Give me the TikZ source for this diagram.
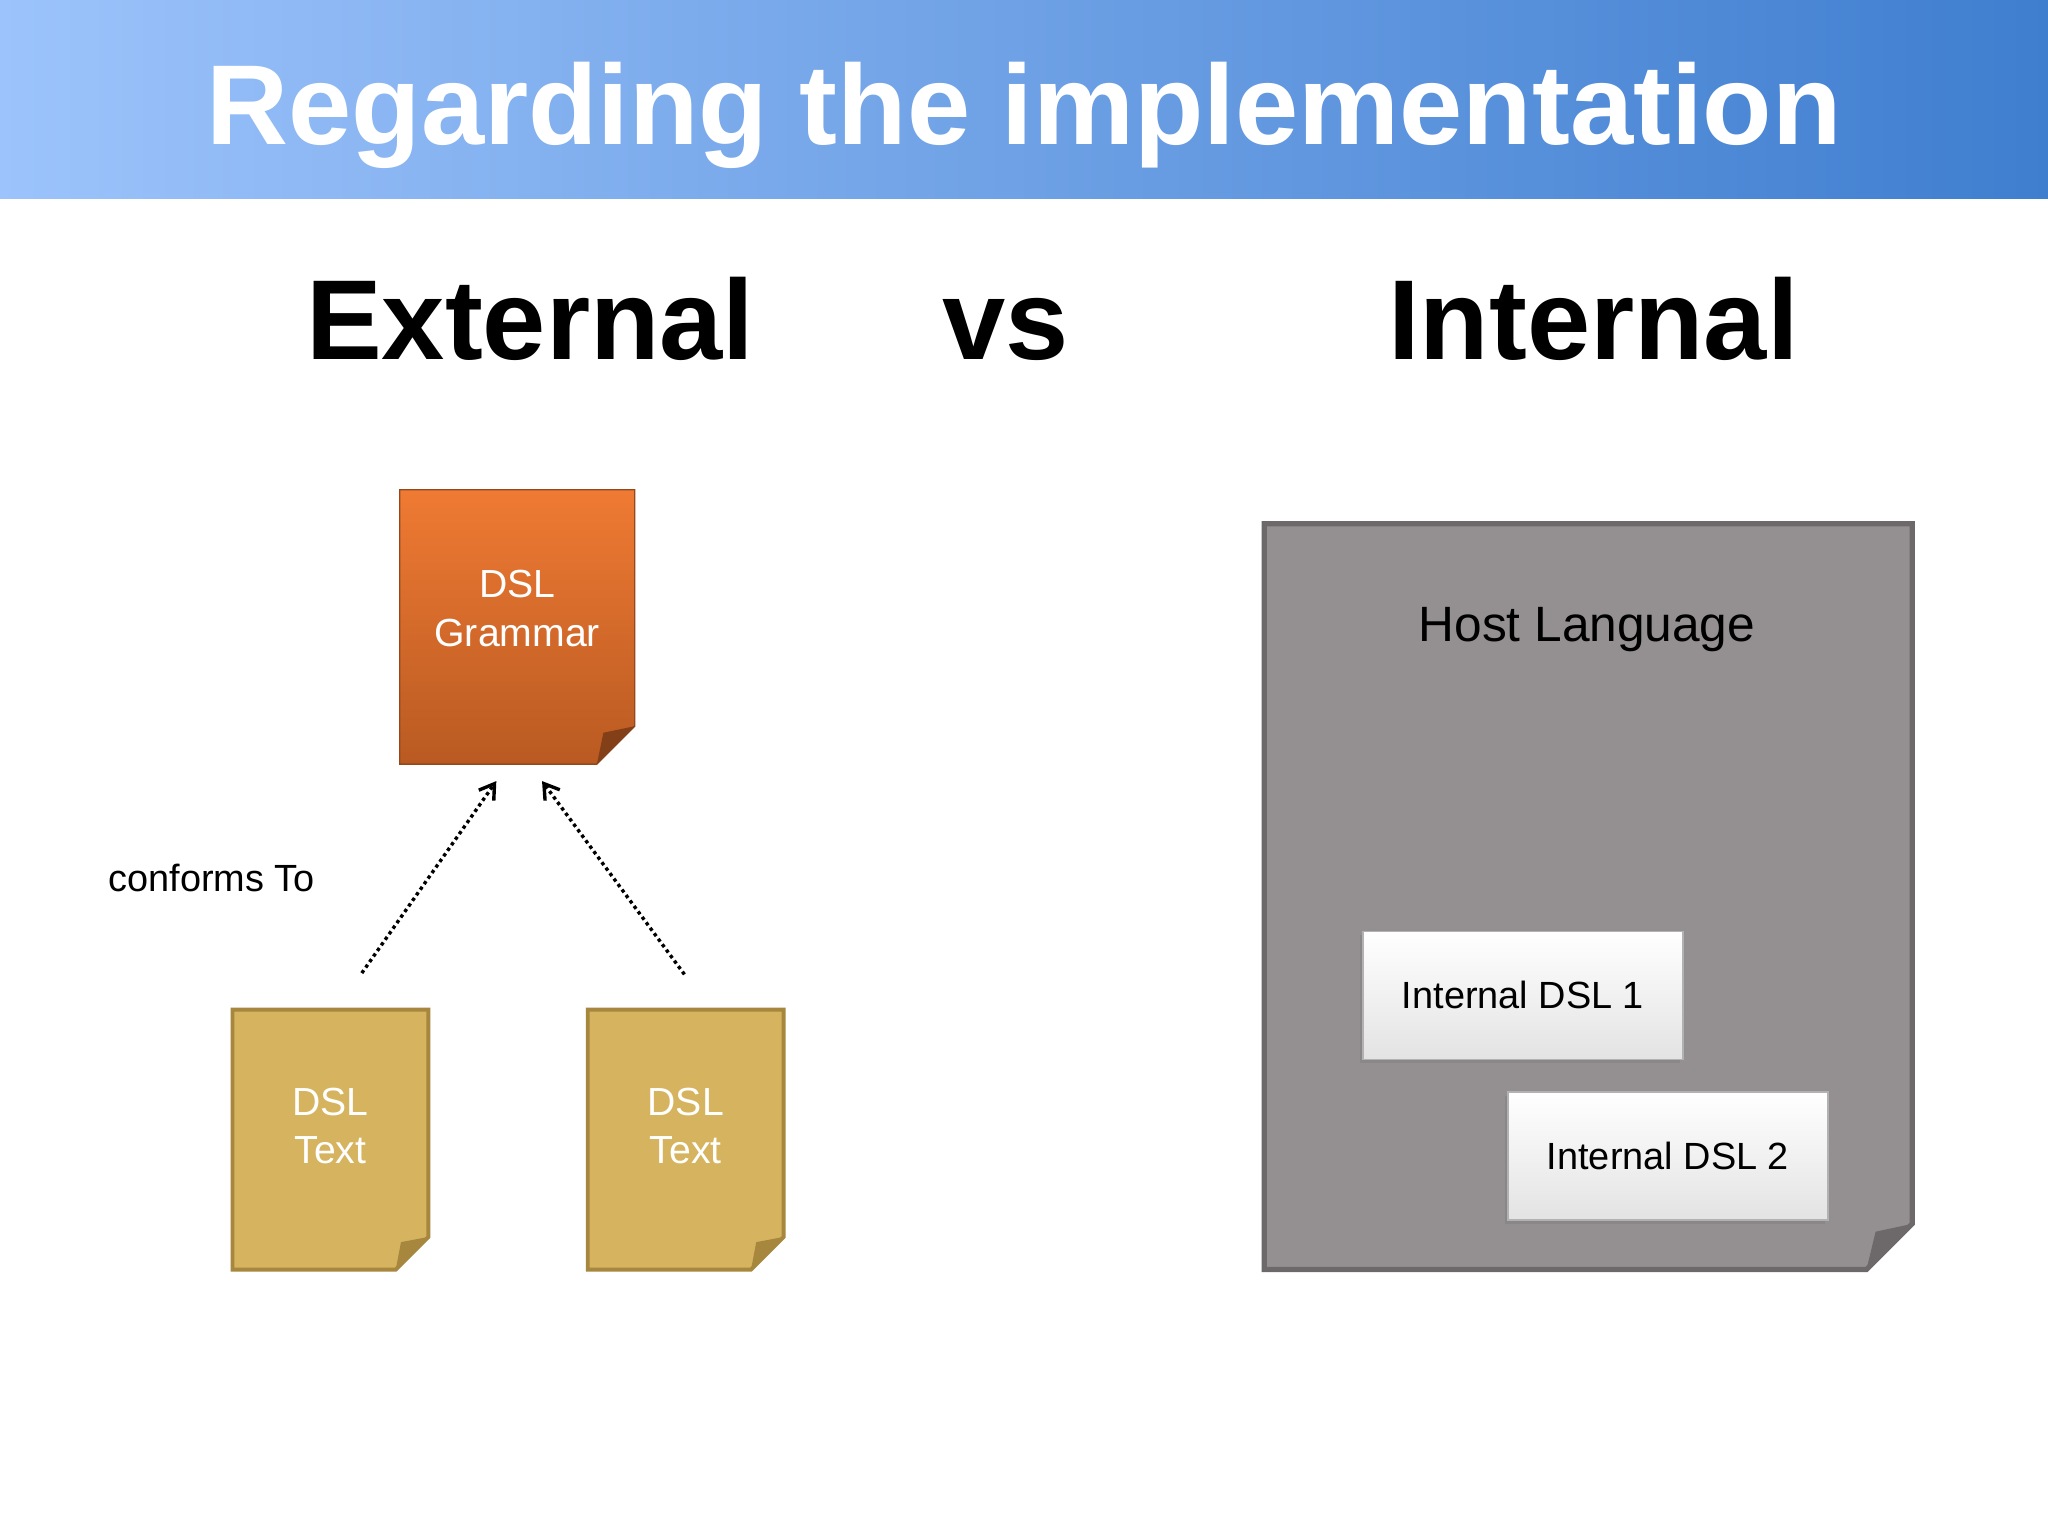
\documentclass[tikz,border=0pt]{standalone}
\usepackage{fontspec}
\setmainfont{Liberation Sans}
\usetikzlibrary{arrows.meta,shadows}
\definecolor{tbl}{HTML}{9CC3FB}
\definecolor{tbr}{HTML}{3F7ECF}
\definecolor{orT}{HTML}{EF7A33}
\definecolor{orB}{HTML}{B95A22}
\definecolor{gold}{HTML}{D6B35F}
\definecolor{goldD}{HTML}{A6873D}
\definecolor{host}{HTML}{948F90}
\definecolor{hostD}{HTML}{6D696A}
\tikzset{
  lbl/.style={text=white,align=center,font=\fontsize{30}{37}\selectfont},
  dsl/.style={draw=gray!60,line width=1pt,top color=white,bottom color=gray!22,
    drop shadow={shadow xshift=-2pt,shadow yshift=-3pt,opacity=0.5},
    minimum width=245pt,minimum height=98pt,font=\fontsize{29}{36}\selectfont},
  conn/.style={line width=2.6pt,dash pattern=on 2.6pt off 2.6pt,
    -{Straight Barb[length=11pt,width=14pt,line width=2.6pt]}}
}
\begin{document}
\begin{tikzpicture}[x=1pt,y=-1pt]
\useasboundingbox (0,0) rectangle (1568,1176);
\fill[white] (0,0) rectangle (1568,1176);
\shade[left color=tbl,right color=tbr] (0,0) rectangle (1568,152);
\node[text=white,font=\bfseries\fontsize{87}{95}\selectfont] (title) at (784,88) {Regarding the implementation};
\node[font=\bfseries\fontsize{87}{96}\selectfont,anchor=base] (ext) at (406,275) {External};
\node[font=\bfseries\fontsize{87}{96}\selectfont,anchor=base] (vs) at (770,275) {vs};
\node[font=\bfseries\fontsize{87}{96}\selectfont,anchor=base] (int) at (1220,275) {Internal};
% grammar
\shade[top color=orT,bottom color=orB,draw=orB!80!black,line width=1pt]
  (306,375) -- (486,375) -- (486,556) -- (457,585) -- (306,585) -- cycle;
\fill[orB!70!black] (486,556) -- (457,585) -- (462,561) -- cycle;
\node[lbl] (gram) at (396,466) {DSL\\Grammar};
% texts
\foreach \x/\n in {178/t1,450/t2}{
  \filldraw[fill=gold,draw=goldD,line width=3pt]
   (\x,773) -- (\x+150,773) -- (\x+150,947) -- (\x+125,972) -- (\x,972) -- cycle;
  \fill[goldD] (\x+150,947) -- (\x+125,972) -- (\x+129,951) -- cycle;
  \node[lbl] (\n) at (\x+75,862) {DSL\\Text};
}
\coordinate (s1) at (277,745);
\coordinate (e1) at (380,598);
\coordinate (s2) at (524,746);
\coordinate (e2) at (415,598);
\draw[conn] (s1) -- (e1);
\draw[conn] (s2) -- (e2);
\node[font=\fontsize{29}{36}\selectfont] (conf) at (162,672) {conforms To};
% host
\filldraw[fill=host,draw=hostD,line width=4pt]
  (968,401) -- (1464,401) -- (1464,937) -- (1429,972) -- (968,972) -- cycle;
\fill[hostD] (1464,937) -- (1429,972) -- (1436,943) -- cycle;
\node[font=\fontsize{38}{44}\selectfont] (hl) at (1215,482) {Host Language};
\node[dsl] (d1) at (1166,762) {Internal DSL 1};
\node[dsl] (d2) at (1277,885) {Internal DSL 2};
\end{tikzpicture}
\end{document}
